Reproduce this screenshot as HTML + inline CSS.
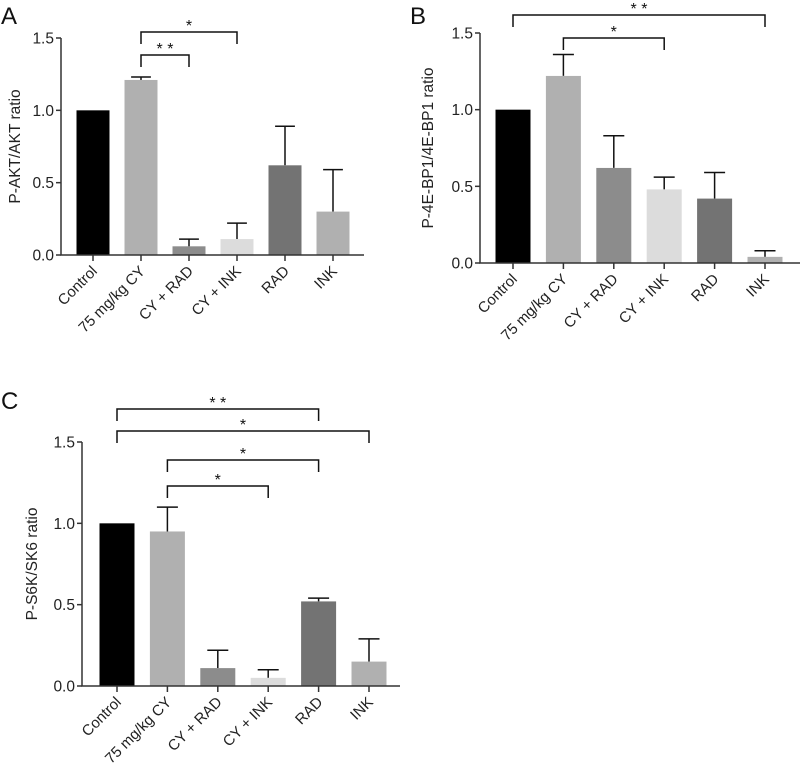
<!DOCTYPE html>
<html><head><meta charset="utf-8"><style>
body{margin:0;background:#fff;}
svg{font-family:"Liberation Sans",Arial,sans-serif;}
</style></head><body>
<svg id="fig" width="800" height="778" viewBox="0 0 800 778"></svg>
<script>
const categories = ["Control","75 mg/kg CY","CY + RAD","CY + INK","RAD","INK"];
const colors = ["#000000","#b0b0b0","#8c8c8c","#dcdcdc","#737373","#b0b0b0"];
const ticks = [0,0.5,1.0,1.5];
const tickLabels = ["0.0","0.5","1.0","1.5"];
const valuesA = [1.0,1.21,0.06,0.11,0.62,0.30];
const errorsA = [0,0.02,0.05,0.11,0.27,0.29];
const valuesB = [1.0,1.22,0.62,0.48,0.42,0.04];
const errorsB = [0,0.14,0.21,0.08,0.17,0.04];
const valuesC = [1.0,0.95,0.11,0.05,0.52,0.15];
const errorsC = [0,0.15,0.11,0.05,0.02,0.14];
const sigA = [[1,2,"* *"],[1,3,"*"]];
const sigB = [[0,5,"* *"],[1,3,"*"]];
const sigC = [[0,4,"* *"],[0,5,"*"],[1,4,"*"],[1,3,"*"]];

const NS="http://www.w3.org/2000/svg";
const svg=document.getElementById('fig');
function mk(tag,attrs,parent,text){const e=document.createElementNS(NS,tag);for(const k in attrs)e.setAttribute(k,attrs[k]);if(text!==undefined)e.textContent=text;parent.appendChild(e);return e;}

function panel(p){
  const g=mk('g',{},svg);
  
  
  const y=v=>p.y0-(p.y0-p.y15)*v/1.5;
  const x=i=>p.c0+i*p.step;
  const lt=mk('text',{x:p.lx,y:p.ly,'font-size':24,fill:'#111'},g,p.id);
  
  
  p.values.forEach((v,i)=>{
    const e=p.errors[i];
    if(e>0){
      const eb=mk('path',{d:`M${x(i)} ${y(v)}V${y(v+e)}M${x(i)-p.w*0.3} ${y(v+e)}H${x(i)+p.w*0.3}`,stroke:'#111','stroke-width':1.5,fill:'none'},g);
      
      
    }
    const r=mk('rect',{x:x(i)-p.w/2,y:y(v),width:p.w,height:p.y0-y(v),fill:colors[i]},g);
    
    
  });
  const ax=mk('path',{d:`M${p.ax} ${p.y15}V${p.y0}H${p.xend}`,stroke:'#333','stroke-width':1.5,fill:'none'},g);
  
  
  ticks.forEach((t,k)=>{
    mk('line',{x1:p.ax-5,x2:p.ax,y1:y(t),y2:y(t),stroke:'#333','stroke-width':1.5},g);
    const tl=mk('text',{x:p.ax-7,y:y(t)+5.5,'font-size':15.5,'text-anchor':'end',fill:'#222'},g,tickLabels[k]);
    
    
  });
  categories.forEach((c,i)=>{
    mk('line',{x1:x(i),x2:x(i),y1:p.y0,y2:p.y0+6,stroke:'#333','stroke-width':1.5},g);
    const t=mk('text',{x:x(i)+5,y:p.y0+17,'font-size':15,'text-anchor':'end',fill:'#222',transform:`rotate(-45 ${x(i)+5} ${p.y0+17})`},g,c);
    
    
  });
  const yt=mk('text',{x:0,y:0,'font-size':15.5,'text-anchor':'middle',fill:'#222',transform:`translate(${p.ytx} ${(p.y0+p.y15)/2}) rotate(-90)`},g,p.ytitle);
  
  
  p.sig.forEach((s,k)=>{
    const by=p.bys[k];
    const b=mk('path',{d:`M${x(s[0])} ${by+12}V${by}H${x(s[1])}V${by+12}`,stroke:'#111','stroke-width':1.5,fill:'none'},g);
    
    
    const st=mk('text',{x:(x(s[0])+x(s[1]))/2,y:by-1,'font-size':16,'text-anchor':'middle',fill:'#111'},g,s[2]);
    
    
  });
}
panel({id:'A',lx:1,ly:24,ax:61,xend:364,y0:255,y15:38,c0:93,step:48,w:33,values:valuesA,errors:errorsA,sig:sigA,bys:[55,32],ytx:20,ytitle:'P-AKT/AKT ratio'});
panel({id:'B',lx:410,ly:24,ax:480,xend:800,y0:263,y15:33,c0:513,step:50.4,w:35,values:valuesB,errors:errorsB,sig:sigB,bys:[15,38],ytx:433,ytitle:'P-4E-BP1/4E-BP1 ratio'});
panel({id:'C',lx:1,ly:409,ax:82,xend:400,y0:686,y15:442,c0:117,step:50.4,w:35,values:valuesC,errors:errorsC,sig:sigC,bys:[409,431,460,486],ytx:37,ytitle:'P-S6K/SK6 ratio'});
</script>
</body></html>
